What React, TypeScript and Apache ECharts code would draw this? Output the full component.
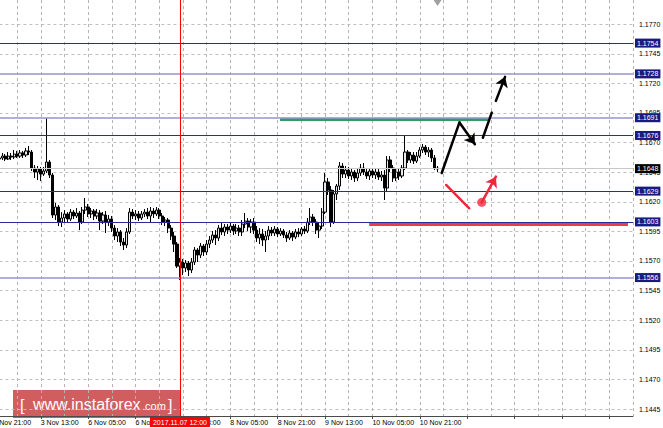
import React, { useEffect, useRef } from "react";
import * as echarts from "echarts";

// ---------- data ----------
const TIME_LABELS = [
  "2 Nov 21:00", "3 Nov 13:00", "6 Nov 05:00", "6 Nov 21:00", "7 Nov 13:00",
  "8 Nov 05:00", "8 Nov 21:00", "9 Nov 13:00", "10 Nov 05:00", "10 Nov 21:00",
];
const BARS_PER_LABEL = 16;
const BARS_PER_GRID = 8;
const SLOT_COUNT = 217;
const FIRST_BAR = 2;

// H1 candles: [open, close, low, high]
const CANDLES: number[][] = [
  [1.16561, 1.1657, 1.16536, 1.16595], [1.1657, 1.16586, 1.16553, 1.16612], [1.16586, 1.16561, 1.16544, 1.16603],
  [1.16561, 1.16586, 1.16553, 1.1662], [1.16586, 1.16578, 1.16553, 1.16612], [1.16578, 1.16603, 1.16561, 1.16637],
  [1.16603, 1.16586, 1.1657, 1.16629], [1.16586, 1.16612, 1.1657, 1.16637], [1.16612, 1.16595, 1.1657, 1.16629],
  [1.16595, 1.16629, 1.16578, 1.16654], [1.16629, 1.1662, 1.16595, 1.16671], [1.1662, 1.16485, 1.1646, 1.16637],
  [1.16485, 1.16451, 1.16401, 1.1651], [1.16451, 1.16477, 1.16384, 1.16502], [1.16477, 1.16434, 1.16375, 1.16494],
  [1.16434, 1.1646, 1.16418, 1.16494], [1.1646, 1.16536, 1.16443, 1.16907], [1.16536, 1.16426, 1.16401, 1.16553],
  [1.16426, 1.16088, 1.16063, 1.16443], [1.16088, 1.16156, 1.16046, 1.1619], [1.16156, 1.16029, 1.15995, 1.16173],
  [1.16029, 1.16063, 1.15987, 1.16113], [1.16063, 1.16097, 1.16029, 1.1613], [1.16097, 1.16054, 1.16029, 1.16113],
  [1.16054, 1.16113, 1.16037, 1.16139], [1.16113, 1.1608, 1.16054, 1.1613], [1.1608, 1.16105, 1.16063, 1.16147],
  [1.16105, 1.16029, 1.15961, 1.16122], [1.16029, 1.1613, 1.16012, 1.16156], [1.1613, 1.16156, 1.16097, 1.16232],
  [1.16156, 1.16097, 1.16071, 1.16181], [1.16097, 1.16122, 1.16063, 1.16147], [1.16122, 1.1608, 1.16046, 1.16139],
  [1.1608, 1.16105, 1.16054, 1.16139], [1.16105, 1.16037, 1.15961, 1.1613], [1.16037, 1.16088, 1.16012, 1.16113],
  [1.16088, 1.16029, 1.15936, 1.16122], [1.16029, 1.16054, 1.15995, 1.16088], [1.16054, 1.15978, 1.15945, 1.1608],
  [1.15978, 1.15911, 1.15877, 1.16004], [1.15911, 1.15945, 1.1586, 1.15978], [1.15945, 1.1586, 1.15826, 1.15961],
  [1.1586, 1.15835, 1.15793, 1.15894], [1.15835, 1.15945, 1.15809, 1.15978], [1.15945, 1.16113, 1.15928, 1.16147],
  [1.16113, 1.1608, 1.16054, 1.16139], [1.1608, 1.16097, 1.16046, 1.1613], [1.16097, 1.16063, 1.16037, 1.16122],
  [1.16063, 1.16097, 1.16046, 1.16122], [1.16097, 1.16113, 1.16071, 1.16139], [1.16113, 1.1608, 1.16054, 1.16147],
  [1.1608, 1.16122, 1.16029, 1.16156], [1.16122, 1.16097, 1.16063, 1.16147], [1.16097, 1.1613, 1.1608, 1.16156],
  [1.1613, 1.1608, 1.16054, 1.16147], [1.1608, 1.16029, 1.16004, 1.16105], [1.16029, 1.16046, 1.15995, 1.16071],
  [1.16046, 1.15978, 1.15936, 1.16063], [1.15978, 1.15911, 1.15877, 1.16004], [1.15911, 1.15843, 1.15776, 1.15945],
  [1.15843, 1.15657, 1.15641, 1.1586], [1.15657, 1.15691, 1.15539, 1.15725], [1.15691, 1.15641, 1.15581, 1.15717],
  [1.15641, 1.15683, 1.15607, 1.15708], [1.15683, 1.15624, 1.15573, 1.157], [1.15624, 1.15691, 1.15598, 1.15725],
  [1.15691, 1.15793, 1.15666, 1.15818], [1.15793, 1.1575, 1.15691, 1.15809], [1.1575, 1.15826, 1.15725, 1.15852],
  [1.15826, 1.15776, 1.15742, 1.15843], [1.15776, 1.15843, 1.1575, 1.15877], [1.15843, 1.15877, 1.15809, 1.15911],
  [1.15877, 1.15919, 1.15852, 1.15953], [1.15919, 1.15894, 1.15835, 1.15961], [1.15894, 1.15978, 1.15869, 1.16004],
  [1.15978, 1.15945, 1.15919, 1.16029], [1.15945, 1.15987, 1.15911, 1.16012], [1.15987, 1.15961, 1.15928, 1.16012],
  [1.15961, 1.15995, 1.15936, 1.16021], [1.15995, 1.15953, 1.15919, 1.16012], [1.15953, 1.15978, 1.15928, 1.16012],
  [1.15978, 1.15945, 1.15911, 1.16004], [1.15945, 1.16012, 1.15911, 1.16046], [1.16012, 1.16037, 1.15978, 1.16105],
  [1.16037, 1.15987, 1.15953, 1.16063], [1.15987, 1.16029, 1.15936, 1.16054], [1.16029, 1.15961, 1.15928, 1.16063],
  [1.15961, 1.15894, 1.1586, 1.15995], [1.15894, 1.15928, 1.15843, 1.15978], [1.15928, 1.15877, 1.15826, 1.1597],
  [1.15877, 1.15911, 1.15776, 1.15953], [1.15911, 1.15961, 1.15877, 1.15995], [1.15961, 1.15936, 1.15911, 1.15987],
  [1.15936, 1.1597, 1.15911, 1.15995], [1.1597, 1.15928, 1.15902, 1.15987], [1.15928, 1.15953, 1.15911, 1.15978],
  [1.15953, 1.15919, 1.15894, 1.1597], [1.15919, 1.15894, 1.1586, 1.15945], [1.15894, 1.15936, 1.15877, 1.15961],
  [1.15936, 1.15902, 1.15869, 1.15953], [1.15902, 1.15945, 1.15885, 1.1597], [1.15945, 1.15928, 1.15902, 1.15978],
  [1.15928, 1.1597, 1.15911, 1.15987], [1.1597, 1.15953, 1.15928, 1.15995], [1.15953, 1.16029, 1.15936, 1.16063],
  [1.16029, 1.16071, 1.16004, 1.16147], [1.16071, 1.16029, 1.15995, 1.16097], [1.16029, 1.15961, 1.15928, 1.16054],
  [1.15961, 1.15995, 1.15894, 1.16029], [1.15995, 1.16113, 1.1597, 1.16147], [1.16113, 1.16367, 1.16097, 1.16443],
  [1.16367, 1.16299, 1.16257, 1.16401], [1.16299, 1.16029, 1.15987, 1.16333], [1.16029, 1.16266, 1.16012, 1.16299],
  [1.16266, 1.16333, 1.16215, 1.1635], [1.16333, 1.16502, 1.16299, 1.16536], [1.16502, 1.16434, 1.16401, 1.16527],
  [1.16434, 1.16468, 1.16401, 1.16502], [1.16468, 1.16418, 1.16392, 1.16494], [1.16418, 1.16451, 1.16384, 1.16485],
  [1.16451, 1.16401, 1.16367, 1.16468], [1.16401, 1.16443, 1.16375, 1.16485], [1.16443, 1.16485, 1.16418, 1.16519],
  [1.16485, 1.16451, 1.16426, 1.16527], [1.16451, 1.16418, 1.16392, 1.16477], [1.16418, 1.1646, 1.16384, 1.16485],
  [1.1646, 1.16426, 1.16401, 1.16485], [1.16426, 1.16451, 1.16392, 1.16477], [1.16451, 1.16409, 1.16384, 1.16477],
  [1.16409, 1.16426, 1.16375, 1.1646], [1.16426, 1.16316, 1.16215, 1.16468], [1.16316, 1.16553, 1.16282, 1.16586],
  [1.16553, 1.16485, 1.16451, 1.16586], [1.16485, 1.16401, 1.16367, 1.1651], [1.16401, 1.16451, 1.16375, 1.16485],
  [1.16451, 1.16418, 1.16384, 1.16485], [1.16418, 1.16485, 1.16401, 1.1651], [1.16485, 1.1662, 1.16468, 1.16764],
  [1.1662, 1.16553, 1.16527, 1.16637], [1.16553, 1.16595, 1.16527, 1.1662], [1.16595, 1.16544, 1.16519, 1.1662],
  [1.16544, 1.16586, 1.16527, 1.1662], [1.16586, 1.16637, 1.1657, 1.16662], [1.16637, 1.16662, 1.16612, 1.16688],
  [1.16662, 1.1662, 1.16595, 1.16679], [1.1662, 1.16637, 1.16578, 1.16662], [1.16637, 1.1657, 1.16536, 1.16654],
  [1.1657, 1.16485, 1.16468, 1.16595], [1.16485, 1.16477, 1.16451, 1.16502],
];

const Y_MIN = 1.14391;
const Y_MAX = 1.17904;
const Y_TICKS = [1.1445, 1.147, 1.1495, 1.152, 1.1545, 1.157, 1.1595, 1.162, 1.1645, 1.167, 1.1695, 1.172, 1.1745, 1.177];

const LEVELS_DARK = [1.1754, 1.1676, 1.1629, 1.1603];
const LEVELS_LIGHT = [1.1728, 1.1691, 1.1556];
const BID_PRICE = 1.1648;
const CROSSHAIR_INDEX = 63;
const CROSSHAIR_LABEL = "2017.11.07 12:00";

// annotations in [bar position, price]
const GREEN_SEGMENT = [[96.8, 1.16895], [167.0, 1.16895]];
const RED_SEGMENT = [[126.9, 1.16012], [214.3, 1.16012]];
const BLACK_LINES = [
  [[151.4, 1.16443], [157.4, 1.1687]],
  [[165.3, 1.16741], [168.3, 1.16953]],
];
const BLACK_ARROWS = [
  [[157.4, 1.1687], [162.6, 1.16686]],
  [[169.7, 1.17052], [172.8, 1.17255]],
];
const RED_LINES = [[[152.9, 1.16342], [160.7, 1.16145]]];
const RED_ARROWS = [[[164.9, 1.16195], [169.7, 1.16412]]];
const RED_DOT = [[164.9, 1.16195]];

// ---------- chart ----------
const FONT = "Liberation Sans, Arial, sans-serif";
const NAVY = "#1a1a80";
const AXIS_COLOR = "#4a4a4a";

export default function App() {
  const ref = useRef<HTMLDivElement>(null);

  useEffect(() => {
    if (!ref.current) return;
    const chart = echarts.init(ref.current, null, { renderer: "svg" });

    const categories = Array.from({ length: SLOT_COUNT }, (_, i) => String(i));
    const candleData = categories.map((_, i) => {
      const k = i - FIRST_BAR;
      return k >= 0 && k < CANDLES.length ? CANDLES[k] : "-";
    });

    const levelLine = (v: number, color: string, width: number, bg: string) => ({
      yAxis: v,
      lineStyle: { color, width, type: "solid", opacity: 1 },
      label: {
        show: true,
        position: "end",
        distance: 2,
        formatter: () => v.toFixed(4),
        backgroundColor: bg,
        color: "#fff",
        fontSize: 7,
        fontFamily: FONT,
        padding: [1, 2, 0, 2],
        lineHeight: 8,
      },
    });

    const lineSeries = (data: number[][][], color: string, arrow: boolean) => ({
      type: "lines",
      coordinateSystem: "cartesian2d",
      xAxisIndex: 1,
      yAxisIndex: 0,
      silent: true,
      symbol: arrow ? ["none", "arrow"] : "none",
      symbolSize: 10,
      lineStyle: { color, width: 2.5, opacity: 1, cap: "round" },
      data: data.map((c) => ({ coords: c })),
      z: 5,
    });

    chart.setOption({
      animation: false,
      backgroundColor: "#ffffff",
      textStyle: { fontFamily: FONT },
      grid: { left: -6.6, right: 30, top: 0, bottom: 12, outerBoundsMode: "none" },
      xAxis: [
        {
          type: "category",
          data: categories,
          boundaryGap: false,
          axisLine: { show: true, lineStyle: { color: AXIS_COLOR, width: 1 } },
          axisTick: {
            show: true,
            length: 3,
            interval: BARS_PER_LABEL - 1,
            lineStyle: { color: AXIS_COLOR },
          },
          axisLabel: {
            interval: BARS_PER_LABEL - 1,
            formatter: (_v: string, i: number) => TIME_LABELS[i / BARS_PER_LABEL] ?? "",
            align: "left",
            margin: 3,
            fontSize: 7,
            color: "#000",
            fontFamily: FONT,
          },
          splitLine: {
            show: true,
            interval: BARS_PER_GRID - 1,
            lineStyle: { color: "#b4b4b4", type: [3, 3], width: 1 },
          },
        },
        { type: "value", min: 0, max: SLOT_COUNT - 1, show: false },
      ],
      yAxis: {
        type: "value",
        position: "right",
        min: Y_MIN,
        max: Y_MAX,
        axisLine: { show: true, lineStyle: { color: AXIS_COLOR, width: 1 } },
        axisTick: { show: true, length: 3, customValues: Y_TICKS, lineStyle: { color: AXIS_COLOR } },
        axisLabel: {
          customValues: Y_TICKS,
          formatter: (v: number) => v.toFixed(4),
          margin: 6,
          fontSize: 7,
          color: "#000",
          fontFamily: FONT,
        },
        splitLine: { show: true, lineStyle: { color: "#c0c0c0", type: [3, 3], width: 1 } },
      },
      series: [
        {
          type: "candlestick",
          data: candleData,
          barWidth: 2.6,
          itemStyle: {
            color: "#e8e8e8",
            color0: "#000000",
            borderColor: "#000000",
            borderColor0: "#000000",
            borderWidth: 1,
          },
          markLine: {
            silent: true,
            symbol: ["none", "none"],
            precision: 4,
            animation: false,
            data: [
              ...LEVELS_LIGHT.map((v) => levelLine(v, "#9494cc", 1.5, NAVY)),
              ...LEVELS_DARK.map((v) => levelLine(v, "#2a2a9c", 1, NAVY)),
              levelLine(BID_PRICE, "#c8c8c8", 1, "#000000"),
              {
                xAxis: CROSSHAIR_INDEX,
                lineStyle: { color: "#ff0000", width: 1, type: "solid", opacity: 1 },
                label: {
                  show: true,
                  position: "start",
                  distance: 1,
                  formatter: CROSSHAIR_LABEL,
                  backgroundColor: "#ff0000",
                  color: "#fff",
                  fontSize: 7,
                  fontFamily: FONT,
                  padding: [1, 3, 1, 3],
                  lineHeight: 8,
                },
              },
            ],
          },
          markPoint: {
            silent: true,
            animation: false,
            data: [
              {
                coord: [FIRST_BAR + CANDLES.length - 1, Y_MAX],
                symbol: "triangle",
                symbolRotate: 180,
                symbolSize: [8, 6],
                symbolOffset: [0, 3],
                itemStyle: { color: "#a0a0a0" },
                label: { show: false },
              },
            ],
          },
        },
        {
          type: "lines",
          coordinateSystem: "cartesian2d",
          xAxisIndex: 1,
          yAxisIndex: 0,
          silent: true,
          symbol: "none",
          z: 4,
          data: [
            { coords: GREEN_SEGMENT, lineStyle: { color: "#2e9e5a", width: 3, opacity: 1 } },
            { coords: RED_SEGMENT, lineStyle: { color: "#ea3c4a", width: 3, opacity: 1 } },
          ],
        },
        lineSeries(BLACK_LINES, "#000000", false),
        lineSeries(BLACK_ARROWS, "#000000", true),
        lineSeries(RED_LINES, "#f0283c", false),
        lineSeries(RED_ARROWS, "#f0283c", true),
        {
          type: "scatter",
          xAxisIndex: 1,
          yAxisIndex: 0,
          silent: true,
          symbolSize: 9,
          itemStyle: { color: "#f0283c" },
          data: RED_DOT,
          z: 6,
        },
      ],
      graphic: [
        {
          type: "group",
          left: 13,
          top: 390,
          z: 100,
          children: [
            { type: "rect", shape: { x: 0, y: 0, width: 167, height: 28 }, style: { fill: "rgba(204,80,80,0.92)" } },
            { type: "text", x: 7, y: 15.5, style: { text: "[", fill: "#fff", font: `16px ${FONT}`, verticalAlign: "middle" } },
            { type: "text", x: 20, y: 14.4, style: { text: "www.instaforex", fill: "#fff", font: `16px ${FONT}`, verticalAlign: "middle" } },
            { type: "text", x: 129, y: 16, style: { text: ".com", fill: "#fff", font: `11px ${FONT}`, verticalAlign: "middle" } },
            { type: "text", x: 155, y: 15.5, style: { text: "]", fill: "#fff", font: `16px ${FONT}`, verticalAlign: "middle" } },
          ],
        },
      ],
    });

    return () => chart.dispose();
  }, []);

  return (
    <div
      ref={ref}
      style={{ position: "fixed", left: 0, top: 0, width: 663, height: 428, background: "#fff" }}
    />
  );
}
